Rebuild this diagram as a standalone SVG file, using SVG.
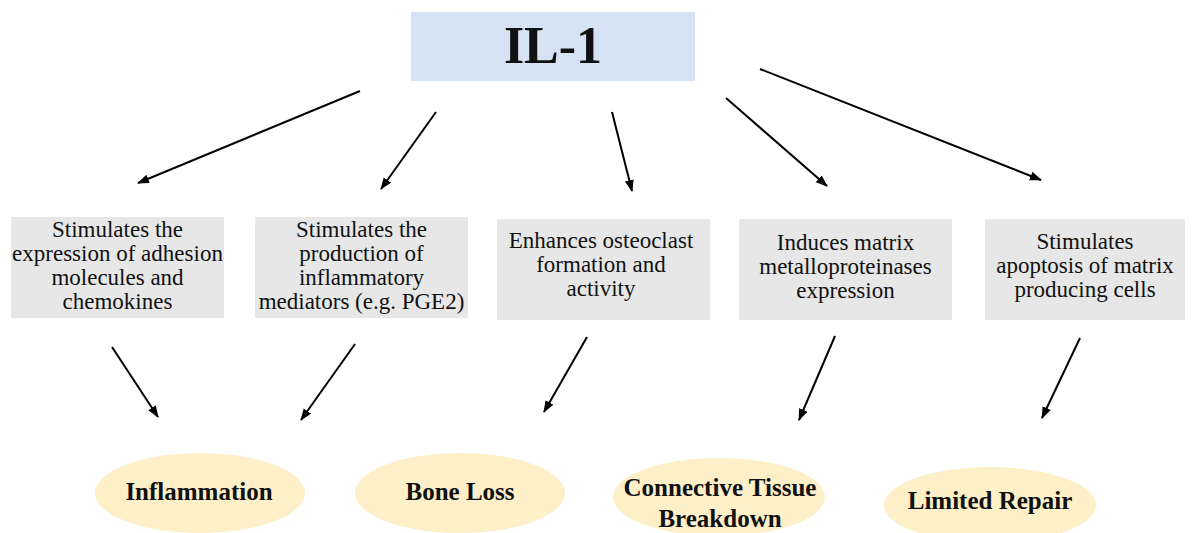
<svg xmlns="http://www.w3.org/2000/svg" width="1192" height="533" viewBox="0 0 1192 533">
  <style>
    .top { fill: #d5e3f4; }
    .box { fill: #e7e7e7; }
    .oval { fill: #fdefc8; }
    .t { font-family: "Liberation Serif", "Times New Roman", serif; font-size: 23px; fill: #111; text-anchor: middle; }
    .b { font-family: "Liberation Serif", "Times New Roman", serif; font-size: 25px; font-weight: bold; fill: #111; text-anchor: middle; }
    .h { font-family: "Liberation Serif", "Times New Roman", serif; font-size: 52px; font-weight: bold; fill: #111; text-anchor: middle; }
    .c line { stroke: #000; stroke-width: 2; marker-end: url(#ah); }
  </style>
  <defs>
    <marker id="ah" markerUnits="userSpaceOnUse" markerWidth="12" markerHeight="10" refX="11" refY="4.5" orient="auto">
      <path d="M0,0 L12,4.5 L0,9 z" fill="#000"/>
    </marker>
  </defs>
  <rect width="1192" height="533" fill="#fff"/>

  <g id="il1">
    <rect class="top" x="411" y="12" width="284" height="69"/>
    <text class="h" x="553" y="63">IL-1</text>
  </g>

  <g id="box1">
    <rect class="box" x="11" y="217" width="213" height="101"/>
    <text class="t" x="117.5" y="237">Stimulates the</text>
    <text class="t" x="117.5" y="261">expression of adhesion</text>
    <text class="t" x="117.5" y="285">molecules and</text>
    <text class="t" x="117.5" y="309">chemokines</text>
  </g>
  <g id="box2">
    <rect class="box" x="255" y="217" width="213" height="101"/>
    <text class="t" x="361.5" y="237">Stimulates the</text>
    <text class="t" x="361.5" y="261">production of</text>
    <text class="t" x="361.5" y="285">inflammatory</text>
    <text class="t" x="361.5" y="309">mediators (e.g. PGE2)</text>
  </g>
  <g id="box3">
    <rect class="box" x="497" y="219" width="213" height="101"/>
    <text class="t" x="601" y="248">Enhances osteoclast</text>
    <text class="t" x="601" y="272">formation and</text>
    <text class="t" x="601" y="296">activity</text>
  </g>
  <g id="box4">
    <rect class="box" x="739" y="219" width="213" height="101"/>
    <text class="t" x="845.5" y="250">Induces matrix</text>
    <text class="t" x="845.5" y="274">metalloproteinases</text>
    <text class="t" x="845.5" y="298">expression</text>
  </g>
  <g id="box5">
    <rect class="box" x="985" y="219" width="200" height="101"/>
    <text class="t" x="1085" y="249">Stimulates</text>
    <text class="t" x="1085" y="273">apoptosis of matrix</text>
    <text class="t" x="1085" y="297">producing cells</text>
  </g>

  <g id="inflammation">
    <ellipse class="oval" cx="200" cy="493" rx="105" ry="40"/>
    <text class="b" x="199" y="500">Inflammation</text>
  </g>
  <g id="boneloss">
    <ellipse class="oval" cx="460" cy="493" rx="105" ry="40"/>
    <text class="b" x="460" y="500">Bone Loss</text>
  </g>
  <g id="connective">
    <ellipse class="oval" cx="719" cy="497" rx="106" ry="39"/>
    <text class="b" x="720" y="496">Connective Tissue</text>
    <text class="b" x="720" y="527">Breakdown</text>
  </g>
  <g id="repair">
    <ellipse class="oval" cx="990" cy="505" rx="106" ry="38"/>
    <text class="b" x="990" y="509">Limited Repair</text>
  </g>

  <g id="connectors" class="c">
    <line x1="360" y1="91" x2="138" y2="183"/>
    <line x1="436" y1="112" x2="381" y2="189"/>
    <line x1="612" y1="112" x2="632" y2="191"/>
    <line x1="726" y1="98" x2="827" y2="186"/>
    <line x1="760" y1="69" x2="1041" y2="180"/>
    <line x1="112" y1="347" x2="158" y2="417"/>
    <line x1="355" y1="344" x2="301" y2="420"/>
    <line x1="587" y1="337" x2="544" y2="412"/>
    <line x1="835" y1="336" x2="799" y2="420"/>
    <line x1="1080" y1="338" x2="1042" y2="418"/>
  </g>
</svg>
